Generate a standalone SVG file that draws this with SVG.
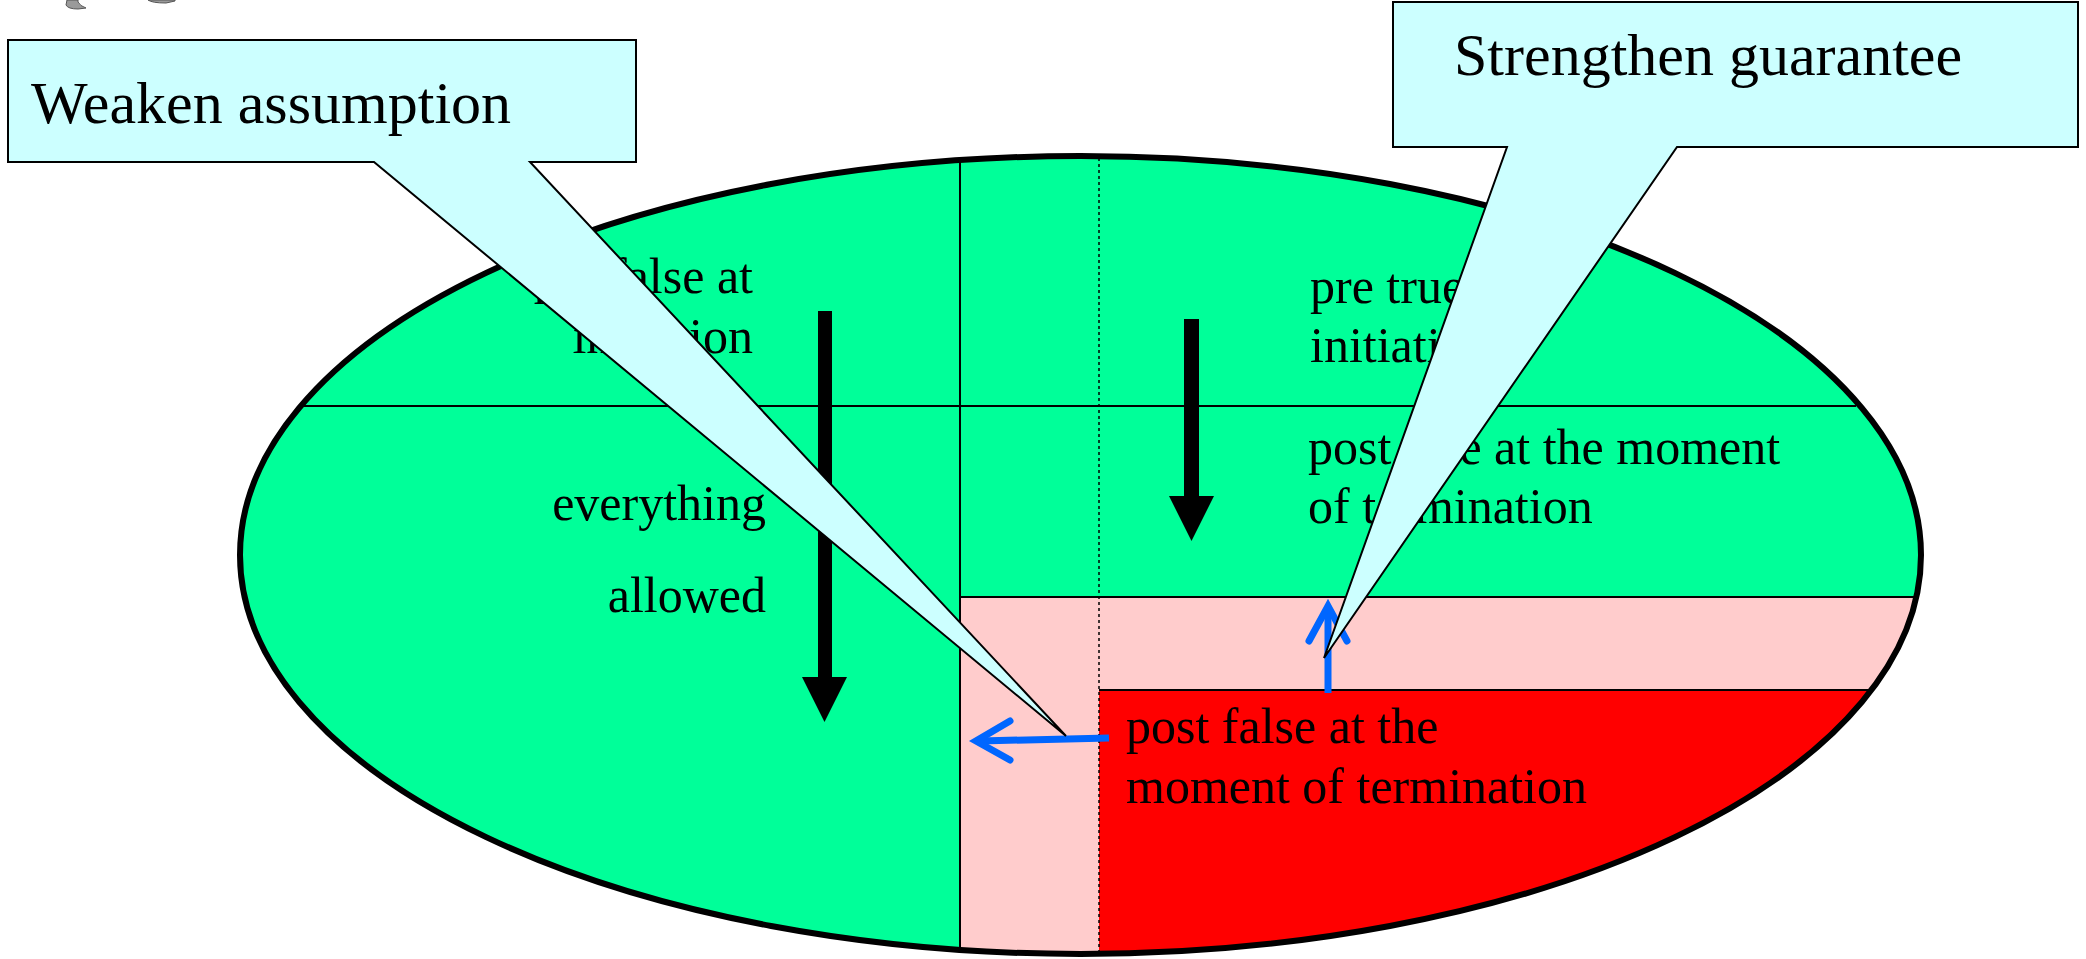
<svg xmlns="http://www.w3.org/2000/svg" width="2086" height="959" viewBox="0 0 2086 959">
  <style>
    .t { font-family: "Liberation Serif", "Times New Roman", serif; font-size: 50px; fill: #000; }
    .ct { font-family: "Liberation Serif", "Times New Roman", serif; font-size: 60px; fill: #000; }
    .ln { stroke: #000; stroke-width: 2; fill: none; }
    .callout { fill: #CCFFFF; stroke: #000; stroke-width: 2; stroke-linejoin: miter; }
    .blue { stroke: #0066FF; stroke-width: 7; fill: none; }
    .bluehead { stroke: #0066FF; stroke-width: 7; fill: none; stroke-linecap: round; stroke-linejoin: miter; }
  </style>
  <defs>
    <clipPath id="ell">
      <ellipse cx="1080.5" cy="555" rx="840.5" ry="399"/>
    </clipPath>
  </defs>
  <rect width="2086" height="959" fill="#fff"/>

  <g id="clipart">
    <path d="M67,0 L66,5 Q68,9 78,9 L86,8 Q80,6 78,2 L78,0 Z" fill="#9a9a9a" stroke="#555" stroke-width="1"/>
    <path d="M148,0 Q152,3 166,3 L175,1 L175,0 Z" fill="#9a9a9a" stroke="#555" stroke-width="1"/>
  </g>

  <g id="ellipse-diagram">
    <g clip-path="url(#ell)">
      <rect id="green-region" x="200" y="140" width="1760" height="830" fill="#00FF99"/>
      <rect id="pink-region" x="960" y="597" width="1000" height="400" fill="#FFCCCC"/>
      <rect id="red-region" x="1099" y="690" width="900" height="300" fill="#FF0000"/>
      <line class="ln" x1="960" y1="140" x2="960" y2="970"/>
      <line x1="1099" y1="140" x2="1099" y2="970" stroke="#000" stroke-width="1.5" stroke-dasharray="3 3"/>
      <line class="ln" x1="230" y1="406" x2="1856" y2="406"/>
      <line class="ln" x1="960" y1="597" x2="1960" y2="597"/>
      <line class="ln" x1="1099" y1="690" x2="1960" y2="690"/>
    </g>
    <ellipse cx="1080.5" cy="555" rx="840.5" ry="399" fill="none" stroke="#000" stroke-width="6"/>
  </g>

  <g id="labels">
    <text class="t" x="753" y="293" text-anchor="end">pre false at</text>
    <text class="t" x="753" y="353" text-anchor="end">initiation</text>
    <text class="t" x="766" y="520" text-anchor="end">everything</text>
    <text class="t" x="766" y="612" text-anchor="end">allowed</text>
    <text class="t" x="1310" y="303">pre true at</text>
    <text class="t" x="1310" y="362">initiation</text>
    <text class="t" x="1308" y="464">post true at the moment</text>
    <text class="t" x="1308" y="523">of termination</text>
    <text class="t" x="1126" y="743">post false at the</text>
    <text class="t" x="1126" y="803">moment of termination</text>
  </g>

  <g id="connectors">
    <g id="arrow-left-down">
      <rect x="818" y="311" width="14" height="369" fill="#000"/>
      <polygon points="802,677 847,677 824.5,722" fill="#000"/>
    </g>
    <g id="arrow-right-down">
      <rect x="1184" y="319" width="15" height="180" fill="#000"/>
      <polygon points="1169,496 1214,496 1191.5,541" fill="#000"/>
    </g>
    <g id="blue-arrow-left">
      <line class="blue" x1="1109" y1="738" x2="980" y2="741"/>
      <polyline class="bluehead" points="1010,721 976,741 1010,760"/>
    </g>
    <g id="blue-arrow-up">
      <line class="blue" x1="1328" y1="693" x2="1328" y2="610"/>
      <polyline class="bluehead" points="1309,641 1328,606 1347,641"/>
    </g>
  </g>

  <g id="callout-weaken">
    <polygon class="callout" points="8,40 636,40 636,162 530,162 1066,736 374,162 8,162"/>
    <text class="ct" x="31" y="123">Weaken assumption</text>
  </g>

  <g id="callout-strengthen">
    <polygon class="callout" points="1393,2 2078,2 2078,147 1677,147 1324,658 1507,147 1393,147"/>
    <text class="ct" x="1454" y="75">Strengthen guarantee</text>
  </g>
</svg>
